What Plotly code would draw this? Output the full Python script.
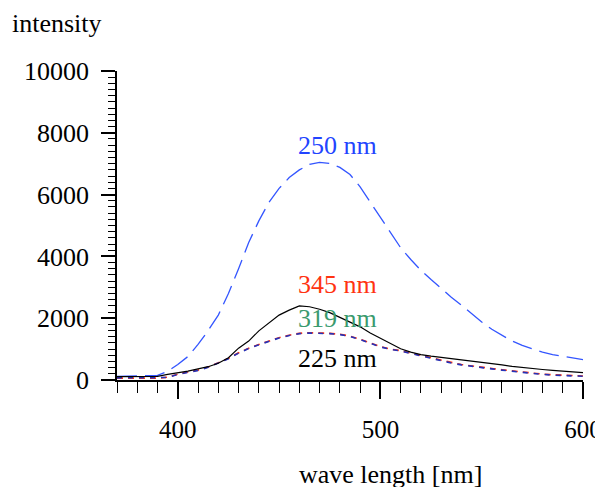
import plotly.graph_objects as go

wavelength = list(range(370, 605, 5))

ex250 = [120, 120, 130, 140, 150, 280, 500, 760, 1150, 1600, 2100, 2800, 3600, 4450, 5150, 5750,
         6200, 6550, 6800, 6980, 7040, 7010, 6880, 6650, 6250, 5750, 5250, 4750, 4280, 3900, 3550,
         3250, 2950, 2680, 2420, 2140, 1880, 1640, 1440, 1260, 1120, 1000, 900, 820, 760, 710, 660]

ex225 = [110, 110, 110, 110, 120, 180, 230, 290, 360, 430, 540, 720, 1030, 1260, 1590, 1860,
         2100, 2260, 2400, 2370, 2290, 2180, 2030, 1890, 1720, 1520, 1350, 1160, 1010, 900, 820,
         770, 730, 700, 670, 630, 580, 530, 490, 440, 400, 370, 340, 310, 290, 260, 240]

ex345 = [60, 60, 60, 60, 60, 90, 190, 260, 320, 420, 560, 700, 880, 1030, 1150, 1270,
         1370, 1450, 1510, 1530, 1530, 1510, 1480, 1420, 1320, 1190, 1080, 1000, 950, 870, 790,
         710, 640, 570, 500, 450, 410, 370, 330, 290, 250, 220, 190, 170, 150, 140, 130]

ex319 = [70, 70, 70, 70, 70, 80, 180, 250, 310, 410, 550, 690, 870, 1020, 1140, 1260,
         1360, 1440, 1500, 1520, 1520, 1500, 1470, 1410, 1310, 1180, 1070, 990, 940, 860, 780,
         700, 620, 550, 490, 440, 400, 360, 320, 280, 240, 210, 180, 160, 140, 130, 120]

y_ticks = [0, 2000, 4000, 6000, 8000, 10000]
y_ticktext = ["0", "2000", "4000", "6000", "8000", "10000"]
x_ticks = [400, 500, 600]

labels = ["250 nm", "345 nm", "319 nm", "225 nm"]
label_y = [7600, 3080, 2000, 710]
label_x = 478.6
label_colors = ["#2244ff", "#ff3311", "#3a9a6e", "#000000"]

FONT = "Liberation Serif, Times New Roman, serif"
FS = 26

fig = go.Figure()
fig.add_trace(go.Scatter(x=wavelength, y=ex250, mode="lines",
                         line=dict(color="#3355ff", width=1.3, dash="20px,8px")))
fig.add_trace(go.Scatter(x=wavelength, y=ex345, mode="lines",
                         line=dict(color="#ff3311", width=1.6, dash="6px,5px")))
fig.add_trace(go.Scatter(x=wavelength, y=ex319, mode="lines",
                         line=dict(color="#2233bb", width=1.6, dash="5px,6px")))
fig.add_trace(go.Scatter(x=wavelength, y=ex225, mode="lines",
                         line=dict(color="#000000", width=1.2)))

for t, yv, c in zip(labels, label_y, label_colors):
    fig.add_annotation(x=label_x, y=yv, text=t, showarrow=False,
                       font=dict(family=FONT, size=FS, color=c), xanchor="center", yanchor="middle")

fig.add_annotation(xref="paper", yref="paper", x=-0.2296, y=1.155, text="intensity", showarrow=False,
                   xanchor="left", yanchor="middle", font=dict(family=FONT, size=26, color="black"))
fig.add_annotation(xref="paper", yref="paper", x=0.586, y=-0.305, text="wave length [nm]", showarrow=False,
                   xanchor="center", yanchor="middle", font=dict(family=FONT, size=26, color="black"))

fig.update_layout(
    width=595, height=479,
    margin=dict(l=109, r=20, t=63, b=107),
    paper_bgcolor="white", plot_bgcolor="white",
    showlegend=False,
    font=dict(family=FONT, size=FS, color="black"),
)
fig.update_xaxes(range=[370, 600], showgrid=False, zeroline=False, showline=True, automargin=False,
                 linecolor="black", linewidth=1.5, ticks="outside", ticklen=17, tickwidth=1.5,
                 tickcolor="black", tickvals=x_ticks, ticklabelstandoff=9, ticklabeloverflow="allow",
                 minor=dict(dtick=10, tick0=370, ticks="outside", ticklen=11, tickwidth=1.3,
                            tickcolor="black", showgrid=False),
                 tickfont=dict(family=FONT, size=25))
fig.update_yaxes(range=[0, 10000], showgrid=False, zeroline=False, showline=True, automargin=False,
                 linecolor="black", linewidth=1.5, ticks="outside", ticklen=14, tickwidth=1.5,
                 tickcolor="black", tickvals=y_ticks, ticktext=y_ticktext, ticklabelstandoff=7,
                 minor=dict(dtick=200, ticks="outside", ticklen=7, tickwidth=1.2,
                            tickcolor="black", showgrid=False),
                 tickfont=dict(family=FONT, size=FS))

fig.write_html(
    "out.html",
    post_script="document.documentElement.style.overflow='hidden';document.body.style.overflow='hidden';",
)
